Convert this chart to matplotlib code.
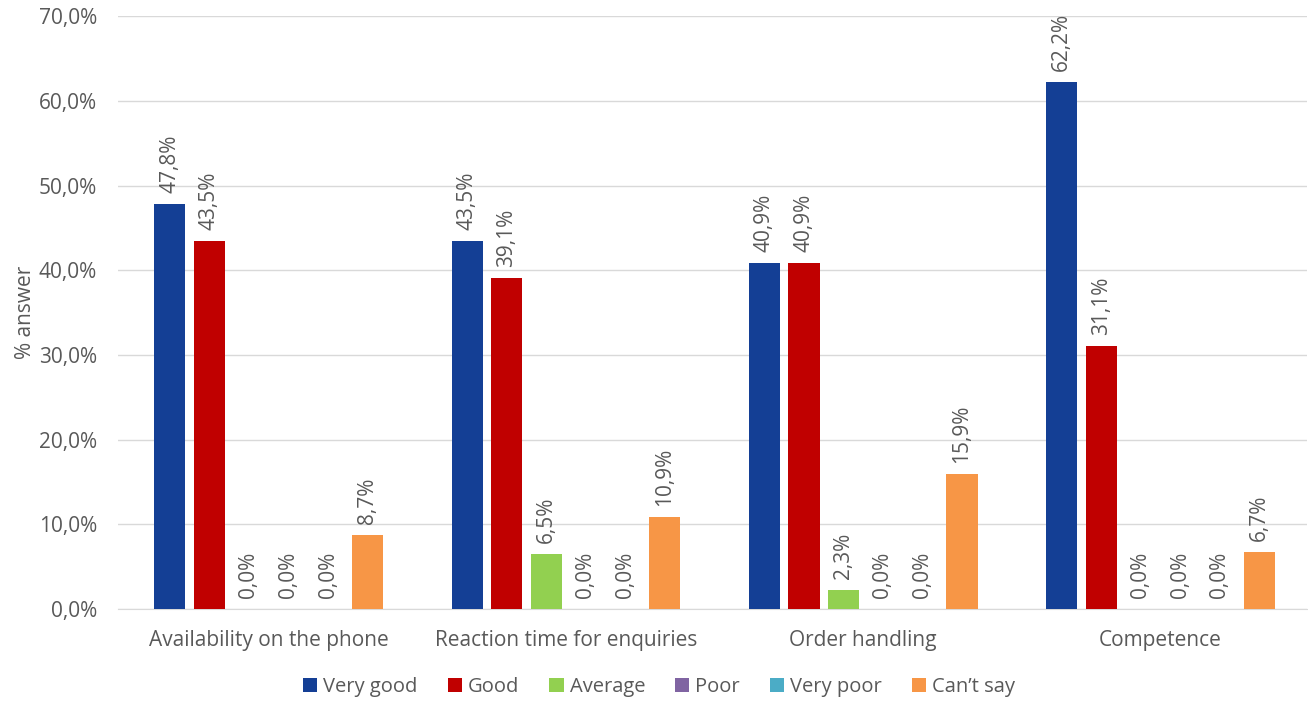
import matplotlib.pyplot as plt
import numpy as np

categories = ['Availability on the phone', 'Reaction time for enquiries', 'Order handling', 'Competence']
series = ['Very good', 'Good', 'Average', 'Poor', 'Very poor', 'Can\u2019t say']
very_good = [47.8, 43.5, 40.9, 62.2]
good = [43.5, 39.1, 40.9, 31.1]
average = [0.0, 6.5, 2.3, 0.0]
poor = [0.0, 0.0, 0.0, 0.0]
very_poor = [0.0, 0.0, 0.0, 0.0]
cant_say = [8.7, 10.9, 15.9, 6.7]
colors = ['#143F95', '#C00000', '#92D050', '#8064A2', '#4BACC6', '#F79646']

plt.rcParams['font.family'] = ['Open Sans', 'DejaVu Sans']
txt = '#595959'
fs = 15

fig = plt.figure(figsize=(13.08, 7.01), dpi=100)
ax = fig.add_axes([0.090, 0.131, 0.909, 0.846])

values = [very_good, good, average, poor, very_poor, cant_say]
x = np.arange(len(categories))
step = 0.133
width = 0.105
for i, (name, vals) in enumerate(zip(series, values)):
    pos = x + (i - 2.5) * step
    ax.bar(pos, vals, width, color=colors[i], label=name, zorder=3)
    for p, v in zip(pos, vals):
        ax.annotate(f'{v:.1f}%'.replace('.', ','), (p, v), xytext=(0, 8),
                    textcoords='offset points', rotation=90, ha='center',
                    va='bottom', fontsize=fs, color=txt)

ax.set_xlim(-0.508, 3.492)
ax.set_ylim(0, 70)
ax.set_yticks(range(0, 71, 10))
ax.set_yticklabels([f'{t},0%' for t in range(0, 71, 10)], fontsize=fs, color=txt)
ax.set_xticks(x)
ax.set_xticklabels(categories, fontsize=fs, color=txt)
ax.tick_params(axis='x', length=0, pad=15)
ax.tick_params(axis='y', length=0, pad=15)
ax.grid(axis='y', color='#D9D9D9', linewidth=1, zorder=0)
for s in ['top', 'right', 'left']:
    ax.spines[s].set_visible(False)
ax.spines['bottom'].set_color('#D9D9D9')
ax.set_ylabel('% answer', fontsize=fs, color=txt, labelpad=2)

# legend is centred on the figure, not on the plot area
fig.legend(loc='center', bbox_to_anchor=(0.504, 0.02), ncol=6, frameon=False,
           fontsize=14.5, labelcolor=txt, handlelength=0.7, handleheight=0.7,
           handletextpad=0.3, columnspacing=1.5)

fig.savefig('out.png')
